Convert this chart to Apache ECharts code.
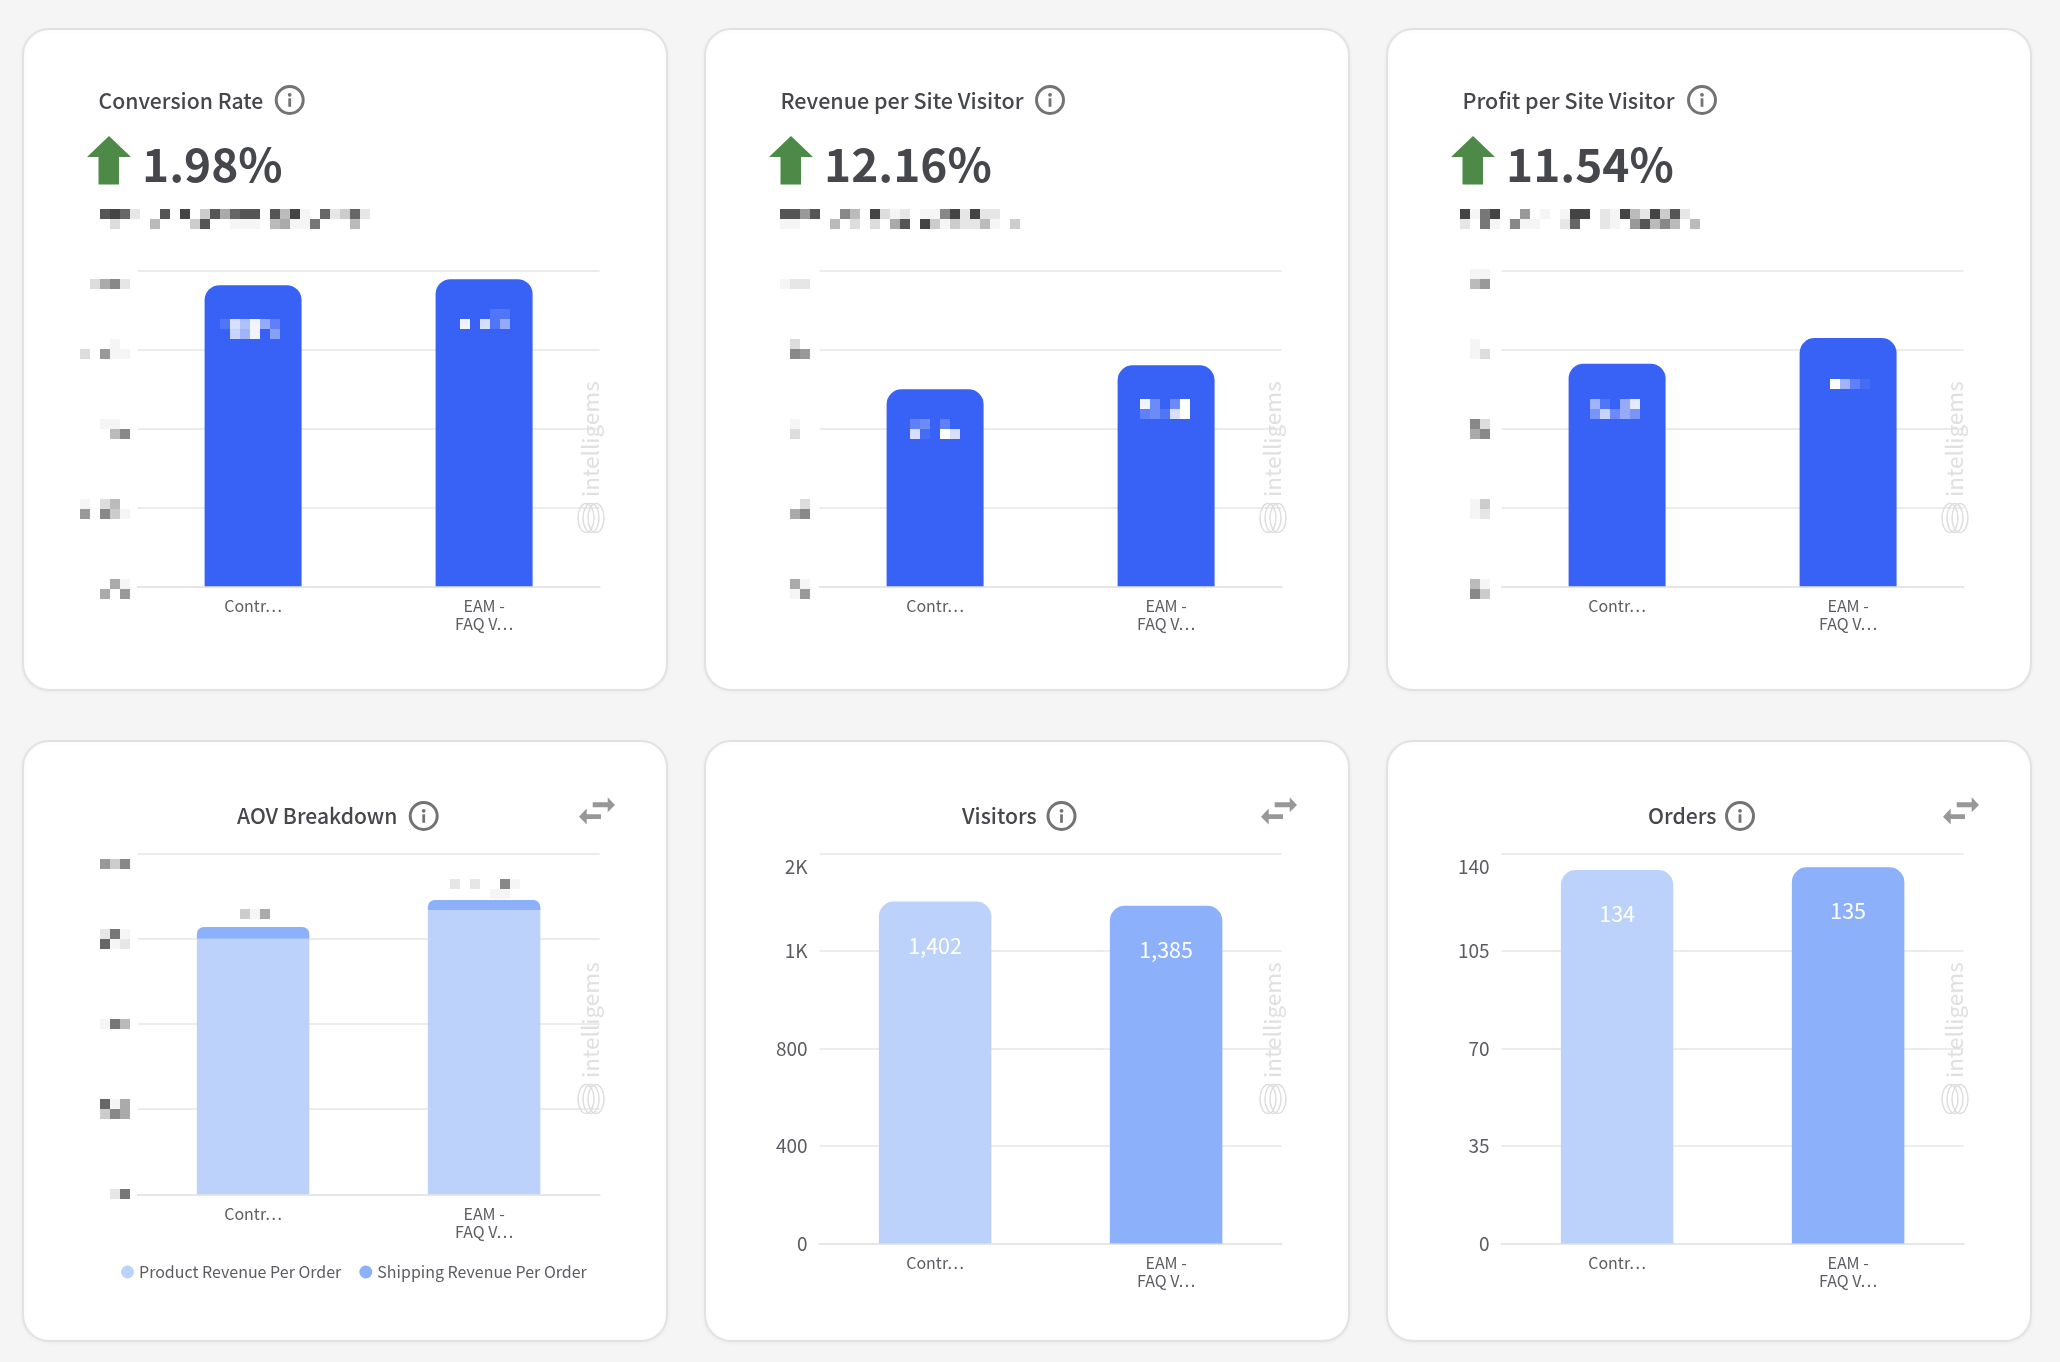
<!DOCTYPE html>
<html><head><meta charset="utf-8">
<style>html,body{margin:0;padding:0;background:#f5f5f5}#c{width:2060px;height:1362px}</style>
<script src="https://cdn.jsdelivr.net/npm/echarts@6/dist/echarts.min.js"></script>
</head><body><div id="c"></div>
<script>
const categories = ['Contr…', 'EAM -\nFAQ V…'];
const conversionRate = [95.5, 97.4];
const revenuePerVisitor = [62.5, 70.1];
const profitPerVisitor = [70.6, 78.75];
const aovProduct = [74.96, 83.3];
const aovShipping = [3.43, 3.0];
const visitors = [1402, 1385];
const orders = [134, 135];
const headlineTitles = ['Conversion Rate', 'Revenue per Site Visitor', 'Profit per Site Visitor'];
const headlineLifts = ['1.98%', '12.16%', '11.54%'];
const lowerTitles = ['AOV Breakdown', 'Visitors', 'Orders'];
const legendNames = ['Product Revenue Per Order', 'Shipping Revenue Per Order'];

const FONT = '"Noto Sans CJK SC","Noto Sans",sans-serif';
const BLUE = '#3861F6', LIGHT = '#BDD2FB', MID = '#8CB0FA', GRID = '#E6E6E6';
const TEXT = '#46474C', AXIS = '#5c5d62';
const COL = [0, 682, 1364];
const gridW = 462;

// Redaction mosaics: [x, y, rows, onBar] - one hex digit per 10px cell
const mosaics = [
 [100,209,['546e..5.4.c5a655.5b4f.6ec6e','.d...b...c5..fff.baff7...b.']],
 [90,279,['da8e']],[80,339,['...f.','d.9ff']],[100,419,['ff.','.b8']],[80,499,['f.db.','9.8cf']],[100,579,['.af','a.9']],
 [220,319,['2c9e73','.b8e.6'],1],[460,309,['...22','e.c27'],1],
 [780,209,['5595..8b.4dfe.ff84e4ee..','ff...b.d.d.a5.4cfceebf.c']],
 [780,279,['fee']],[790,339,['d.','89']],[790,419,['f','d']],[790,499,['.d','a8']],[790,579,['af','f9']],
 [910,419,['34.3.','c1.fc'],1],[1140,399,['e4.4f','342cf'],1],
 [1460,209,['4f74..9.f.f44.ef4be4c5e.','e.7f.8ff..e6..ef.95b8b.b']],
 [1470,269,['ff','b9']],[1470,339,['f.','fd']],[1470,419,['8d','a8']],[1470,499,['fc','fe']],[1470,579,['bf','8c']],
 [1590,399,['82.7d','5b475'],1],[1830,379,['f831'],1],
 [100,859,['9c8']],[100,929,['e7f','6fe']],[100,1019,['f7b']],[100,1099,['6fa','c8a']],[110,1189,['e7']],
 [240,909,['cfa']],[450,879,['e.e..8f','....ff.']]
];

const graphic = [];
function card(x, y, w, h) {
  graphic.push({type:'rect', z:-10, shape:{x, y, width:w, height:h, r:26},
    style:{fill:'#fff', stroke:'#E2E2E2', lineWidth:2, shadowBlur:4, shadowColor:'rgba(0,0,0,0.04)', shadowOffsetY:1}});
}
function text(str, x, y, size, opt) {
  graphic.push({type:'text', z:60, x, y,
    style:Object.assign({text:str, font:((opt&&opt.weight)||400)+' '+size+'px '+FONT, fill:TEXT,
      align:'left', verticalAlign:'middle'}, opt&&opt.style)});
}
function info(cx, cy) {
  graphic.push({type:'circle', z:60, shape:{cx, cy, r:13.5}, style:{fill:'none', stroke:'#737373', lineWidth:3}});
  graphic.push({type:'rect', z:60, shape:{x:cx-1.4, y:cy-1.7, width:2.8, height:8.5}, style:{fill:'#737373'}});
  graphic.push({type:'circle', z:60, shape:{cx, cy:cy-5.2, r:1.9}, style:{fill:'#737373'}});
}
function upArrow(dx) {
  graphic.push({type:'polygon', z:60, shape:{points:[[109+dx,136],[131+dx,157],[119+dx,157],[119+dx,184.5],[98.5+dx,184.5],[98.5+dx,157],[87+dx,157]]},
    style:{fill:'#4D8A48'}});
}
function swap(dx) {
  const c = '#989898';
  graphic.push({type:'polygon', z:60, shape:{points:[[592.7+dx,802.3],[607.7+dx,802.3],[607.7+dx,797.3],[615+dx,805],[607.7+dx,812.3],[607.7+dx,807.3],[592.7+dx,807.3]]}, style:{fill:c}});
  graphic.push({type:'polygon', z:60, shape:{points:[[601+dx,814.3],[586.7+dx,814.3],[586.7+dx,808.6],[579+dx,816.7],[586.7+dx,824.6],[586.7+dx,818.9],[601+dx,818.9]]}, style:{fill:c}});
}
function watermark(dx, textY, logoY) {
  graphic.push({type:'text', z:50, x:590+dx, y:textY, rotation:Math.PI/2,
    style:{text:'intelligems', font:'400 22.5px '+FONT, fill:'#E0E0E0', align:'left', verticalAlign:'middle'}});
  [-5,0,5].forEach(function(e){
    graphic.push({type:'ellipse', z:50, shape:{cx:591+dx+e, cy:logoY, rx:8, ry:14.5}, style:{fill:'none', stroke:'#DEDEDE', lineWidth:1.5}});
  });
}

COL.forEach(function(dx, i){
  card(23+dx, 29, 644, 661);
  card(23+dx, 741, 644, 600);
  text(headlineTitles[i], 98.5+dx, 101, i===0?21.2:21.5, {weight:500});
  text(headlineLifts[i], 142+dx, 165, 46, {weight:700});
  upArrow(dx);
  watermark(dx, 497, 518);
  watermark(dx, 1078, 1099);
  swap(dx);
});
info(289.7,100); info(1050,100); info(1702,100);
text(lowerTitles[0], 237, 816, 21.1, {weight:500}); info(423.7,816);
text(lowerTitles[1], 962, 816, 21.2, {weight:500}); info(1061.5,816);
text(lowerTitles[2], 1648, 816, 21.2, {weight:500}); info(1740,816);

mosaics.forEach(function(m){
  m[2].forEach(function(row, r){
    row.split('').forEach(function(ch, c){
      if (ch === '.') return;
      const v = parseInt(ch, 16);
      const fill = m[3] ? 'rgba(255,255,255,'+(v/15).toFixed(2)+')'
        : (ch === 'f' ? '#F5F5F5' : ch === 'e' ? '#E6E6E6' : '#'+ch+ch+ch);
      graphic.push({type:'rect', z:70, shape:{x:m[0]+c*10, y:m[1]+r*10, width:10, height:10}, style:{fill}});
    });
  });
});

function plain(v){ return String(v); }
const panels = [
 {x:137.6, y:271, h:315.3, max:100, step:25, m:11},
 {x:819.6, y:271, h:315.3, max:100, step:25, m:11},
 {x:1501.6, y:271, h:315.3, max:100, step:25, m:11},
 {x:137.6, y:853.3, h:341, max:100, step:25, m:11},
 {x:819.6, y:853.3, h:390.2, max:1600, step:400, show:1, m:10, fmt:function(v){return v>=1000?Math.round(v/1000)+'K':String(v);}},
 {x:1501.6, y:853.3, h:390.2, max:140, step:35, show:1, m:10, fmt:plain}
];
const grids = [], xAxes = [], yAxes = [];
panels.forEach(function(p){
  grids.push({left:p.x, top:p.y, width:gridW, height:p.h});
  xAxes.push({type:'category', gridIndex:grids.length-1, data:categories, boundaryGap:true,
    axisTick:{show:false}, axisLine:{lineStyle:{color:GRID,width:2}},
    axisLabel:{interval:0, margin:p.m, color:AXIS, fontFamily:FONT, fontSize:16, lineHeight:18}});
  yAxes.push({type:'value', gridIndex:grids.length-1, min:0, max:p.max, interval:p.step,
    axisLine:{show:false}, axisTick:{show:false}, splitLine:{lineStyle:{color:GRID,width:1.6}},
    axisLabel:{show:!!p.show, margin:12, color:AXIS, fontFamily:FONT, fontSize:19, verticalAlignMaxLabel:'top',
      formatter:p.fmt?function(v){const s=p.fmt(v);return v===p.max?'{t|'+s+'}':s;}:undefined,
      rich:{t:{padding:[4,0,0,0], color:AXIS, fontFamily:FONT, fontSize:19}}}});
});
function bar(idx, vals, color, width, r, label) {
  return {type:'bar', xAxisIndex:idx, yAxisIndex:idx, barWidth:width, silent:true, animation:false,
    itemStyle:{color:Array.isArray(color)?color[0]:color},
    data:vals.map(function(v,i){return {value:v, itemStyle:{color:Array.isArray(color)?color[i]:color, borderRadius:r}};}),
    label:label?{show:true, position:'insideTop', distance:33, color:'#fff', fontFamily:FONT, fontSize:21.5,
      formatter:function(d){return d.value.toLocaleString('en-US');}}:{show:false}};
}
const R = [15,15,0,0];
const series = [
  bar(0, conversionRate, BLUE, 97, R),
  bar(1, revenuePerVisitor, BLUE, 97, R),
  bar(2, profitPerVisitor, BLUE, 97, R),
  Object.assign(bar(3, aovProduct, LIGHT, 112.5, 0), {name:legendNames[0], stack:'aov'}),
  Object.assign(bar(3, aovShipping, MID, 112.5, [7,7,0,0]), {name:legendNames[1], stack:'aov'}),
  bar(4, visitors, [LIGHT, MID], 112.5, R, true),
  bar(5, orders, [LIGHT, MID], 112.5, R, true)
];
const chart = echarts.init(document.getElementById('c'), null, {renderer:'canvas', width:2060, height:1362});
chart.setOption({
  animation:false, backgroundColor:'#F5F5F5',
  grid:grids, xAxis:xAxes, yAxis:yAxes, series:series, graphic:graphic,
  legend:{data:legendNames, left:116, top:1259, itemWidth:13, itemHeight:13, itemGap:18, icon:'circle', selectedMode:false,
    textStyle:{color:AXIS, fontFamily:FONT, fontSize:16}}
});
</script></body></html>
